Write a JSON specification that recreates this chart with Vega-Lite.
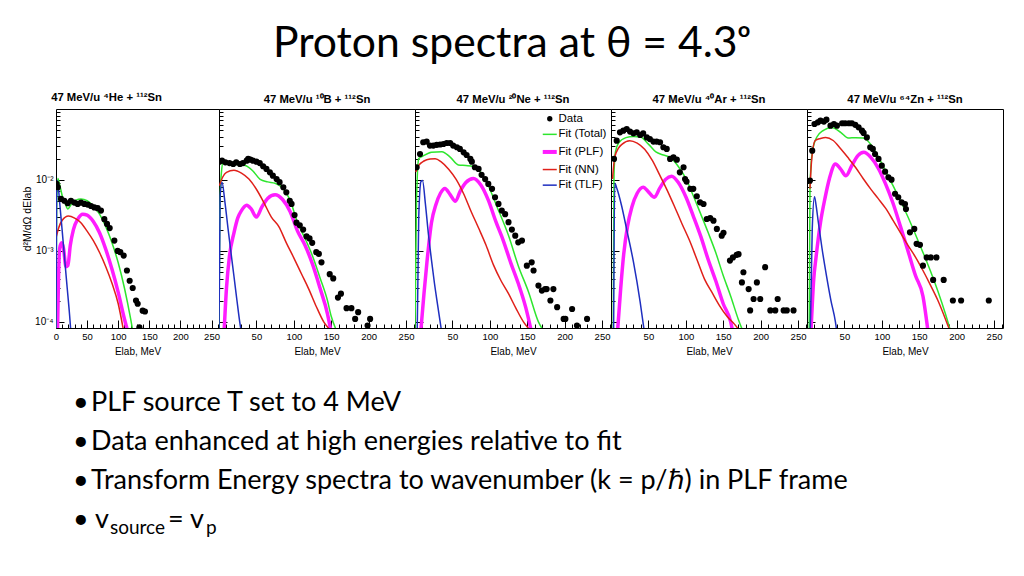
{
"$schema": "https://vega.github.io/schema/vega-lite/v6.json",
"background": "white",
"padding": {"left": 22, "top": 23, "right": 0, "bottom": 0},
"title": {"text": "Proton spectra at θ = 4.3ᵒ", "font": "Lato", "fontSize": 42.7, "fontWeight": "normal", "color": "#000", "anchor": "middle", "offset": 25.5, "dx": -1},
"config": {"view": {"stroke": "#000", "strokeWidth": 1}, "axis": {"tickColor": "#000", "labelColor": "#000", "titleColor": "#000", "grid": false, "domain": false}},
"datasets": {
"pts": [
{"p":1,"E":1,"v":0.0088},{"p":1,"E":3,"v":0.0079},{"p":1,"E":8,"v":0.0054},{"p":1,"E":13.4,"v":0.0051},{"p":1,"E":18.8,"v":0.0047},{"p":1,"E":24,"v":0.0051},{"p":1,"E":29.5,"v":0.0048},{"p":1,"E":34.8,"v":0.0046},{"p":1,"E":40.2,"v":0.0048},{"p":1,"E":45.6,"v":0.0046},{"p":1,"E":51,"v":0.0045},{"p":1,"E":56.3,"v":0.0043},{"p":1,"E":61.6,"v":0.0041},{"p":1,"E":67,"v":0.004},{"p":1,"E":72.3,"v":0.0037},{"p":1,"E":77.7,"v":0.0028},{"p":1,"E":82,"v":0.0024},{"p":1,"E":86.3,"v":0.0021},{"p":1,"E":93.8,"v":0.0014},{"p":1,"E":99.1,"v":0.001},{"p":1,"E":103.4,"v":0.00096},{"p":1,"E":108.8,"v":0.00086},{"p":1,"E":114,"v":0.00053},{"p":1,"E":118.4,"v":0.00038},{"p":1,"E":123.3,"v":0.0003},{"p":1,"E":128.6,"v":0.0002},{"p":1,"E":131.3,"v":0.00018},{"p":1,"E":139.3,"v":0.000144},{"p":1,"E":143,"v":0.00014},{"p":1,"E":134,"v":0.000084},
{"p":2,"E":0.5,"v":0.0181},{"p":2,"E":4,"v":0.0187},{"p":2,"E":8.5,"v":0.0177},{"p":2,"E":14,"v":0.0173},{"p":2,"E":19,"v":0.0168},{"p":2,"E":23,"v":0.0177},{"p":2,"E":28,"v":0.0168},{"p":2,"E":32,"v":0.0173},{"p":2,"E":37,"v":0.0187},{"p":2,"E":39,"v":0.0198},{"p":2,"E":42,"v":0.0193},{"p":2,"E":45.5,"v":0.0187},{"p":2,"E":50,"v":0.0181},{"p":2,"E":54.5,"v":0.0173},{"p":2,"E":59,"v":0.0156},{"p":2,"E":63.4,"v":0.0143},{"p":2,"E":68,"v":0.0128},{"p":2,"E":72,"v":0.0115},{"p":2,"E":77,"v":0.0103},{"p":2,"E":81,"v":0.0093},{"p":2,"E":86,"v":0.0079},{"p":2,"E":90,"v":0.0067},{"p":2,"E":94.6,"v":0.0051},{"p":2,"E":97,"v":0.0046},{"p":2,"E":101,"v":0.0032},{"p":2,"E":103.6,"v":0.0025},{"p":2,"E":108,"v":0.0023},{"p":2,"E":112.5,"v":0.002},{"p":2,"E":117,"v":0.0016},{"p":2,"E":121,"v":0.0015},{"p":2,"E":124.6,"v":0.0013},{"p":2,"E":130,"v":0.00096},{"p":2,"E":133.5,"v":0.00091},{"p":2,"E":137,"v":0.00069},{"p":2,"E":148,"v":0.00047},{"p":2,"E":152.7,"v":0.00041},{"p":2,"E":159,"v":0.00022},{"p":2,"E":163,"v":0.00025},{"p":2,"E":170.5,"v":0.000156},{"p":2,"E":177,"v":0.000156},{"p":2,"E":182,"v":0.00011},{"p":2,"E":186,"v":0.000137},{"p":2,"E":202,"v":0.00011},{"p":2,"E":198.6,"v":0.000089},
{"p":3,"E":2.2,"v":0.0151},{"p":3,"E":6.7,"v":0.0232},{"p":3,"E":11,"v":0.034},{"p":3,"E":15.6,"v":0.0347},{"p":3,"E":20,"v":0.0305},{"p":3,"E":24.5,"v":0.0305},{"p":3,"E":29,"v":0.0313},{"p":3,"E":33.5,"v":0.0316},{"p":3,"E":38,"v":0.0321},{"p":3,"E":42.4,"v":0.0332},{"p":3,"E":47,"v":0.0332},{"p":3,"E":51,"v":0.0305},{"p":3,"E":56,"v":0.0289},{"p":3,"E":60,"v":0.0274},{"p":3,"E":65,"v":0.0245},{"p":3,"E":69,"v":0.0225},{"p":3,"E":74,"v":0.0198},{"p":3,"E":76,"v":0.0181},{"p":3,"E":80,"v":0.0151},{"p":3,"E":85,"v":0.0143},{"p":3,"E":89,"v":0.0118},{"p":3,"E":93.75,"v":0.0103},{"p":3,"E":98,"v":0.0088},{"p":3,"E":103,"v":0.0075},{"p":3,"E":107,"v":0.0057},{"p":3,"E":111.6,"v":0.0046},{"p":3,"E":116,"v":0.0037},{"p":3,"E":120.5,"v":0.0033},{"p":3,"E":125,"v":0.00254},{"p":3,"E":129.5,"v":0.002},{"p":3,"E":134,"v":0.00164},{"p":3,"E":138,"v":0.00132},{"p":3,"E":143,"v":0.0014},{"p":3,"E":149.5,"v":0.00062},{"p":3,"E":156,"v":0.00069},{"p":3,"E":158.5,"v":0.00053},{"p":3,"E":165,"v":0.000325},{"p":3,"E":169.6,"v":0.000276},{"p":3,"E":174,"v":0.00029},{"p":3,"E":176,"v":0.00029},{"p":3,"E":185,"v":0.00029},{"p":3,"E":181,"v":0.0002},{"p":3,"E":190,"v":0.000161},{"p":3,"E":198.7,"v":0.00011},{"p":3,"E":201,"v":0.00011},{"p":3,"E":210,"v":0.000152},{"p":3,"E":216.5,"v":0.000089},{"p":3,"E":230,"v":0.00011},
{"p":4,"E":4,"v":0.0198},{"p":4,"E":7.6,"v":0.0358},{"p":4,"E":12,"v":0.0469},{"p":4,"E":16.5,"v":0.0495},{"p":4,"E":21,"v":0.0523},{"p":4,"E":25.4,"v":0.048},{"p":4,"E":30,"v":0.0454},{"p":4,"E":34.4,"v":0.0469},{"p":4,"E":39,"v":0.043},{"p":4,"E":43,"v":0.0454},{"p":4,"E":47.8,"v":0.0398},{"p":4,"E":52,"v":0.0377},{"p":4,"E":56.7,"v":0.0347},{"p":4,"E":61,"v":0.0347},{"p":4,"E":65.6,"v":0.034},{"p":4,"E":70,"v":0.0289},{"p":4,"E":74.5,"v":0.0274},{"p":4,"E":79,"v":0.0198},{"p":4,"E":83.5,"v":0.0208},{"p":4,"E":88,"v":0.0193},{"p":4,"E":92,"v":0.0128},{"p":4,"E":97,"v":0.0151},{"p":4,"E":99,"v":0.0103},{"p":4,"E":101,"v":0.0095},{"p":4,"E":106,"v":0.0075},{"p":4,"E":110,"v":0.0075},{"p":4,"E":114.7,"v":0.0059},{"p":4,"E":119,"v":0.00484},{"p":4,"E":123.7,"v":0.00459},{"p":4,"E":128,"v":0.00282},{"p":4,"E":132.6,"v":0.0029},{"p":4,"E":137,"v":0.00267},{"p":4,"E":141.5,"v":0.00204},{"p":4,"E":148,"v":0.00164},{"p":4,"E":150.4,"v":0.0018},{"p":4,"E":159,"v":0.00073},{"p":4,"E":163,"v":0.00081},{"p":4,"E":168,"v":0.00088},{"p":4,"E":170.5,"v":0.0009},{"p":4,"E":177,"v":0.0005},{"p":4,"E":175,"v":0.00036},{"p":4,"E":184,"v":0.00029},{"p":4,"E":195,"v":0.00036},{"p":4,"E":190.6,"v":0.00021},{"p":4,"E":199.5,"v":0.00021},{"p":4,"E":206,"v":0.00059},{"p":4,"E":186,"v":0.000145},{"p":4,"E":213,"v":0.000145},{"p":4,"E":222.8,"v":0.00021},{"p":4,"E":219.6,"v":0.000145},{"p":4,"E":230.8,"v":0.000145},{"p":4,"E":235,"v":0.000145},{"p":4,"E":244,"v":0.000145},
{"p":5,"E":4,"v":0.0098},{"p":5,"E":7,"v":0.0259},{"p":5,"E":10,"v":0.0615},{"p":5,"E":14.6,"v":0.0648},{"p":5,"E":18,"v":0.0685},{"p":5,"E":22.6,"v":0.0665},{"p":5,"E":26,"v":0.0708},{"p":5,"E":31.4,"v":0.0582},{"p":5,"E":36,"v":0.0615},{"p":5,"E":40,"v":0.0582},{"p":5,"E":47,"v":0.063},{"p":5,"E":51,"v":0.063},{"p":5,"E":56,"v":0.063},{"p":5,"E":60,"v":0.063},{"p":5,"E":64.6,"v":0.0598},{"p":5,"E":69,"v":0.0552},{"p":5,"E":73.5,"v":0.0495},{"p":5,"E":75.7,"v":0.046},{"p":5,"E":80,"v":0.0398},{"p":5,"E":84.5,"v":0.0289},{"p":5,"E":88,"v":0.0274},{"p":5,"E":91,"v":0.0232},{"p":5,"E":95.6,"v":0.0198},{"p":5,"E":100,"v":0.0159},{"p":5,"E":104.4,"v":0.0131},{"p":5,"E":108.8,"v":0.0109},{"p":5,"E":113,"v":0.0101},{"p":5,"E":117.7,"v":0.0064},{"p":5,"E":122,"v":0.0057},{"p":5,"E":126.5,"v":0.00484},{"p":5,"E":131,"v":0.00459},{"p":5,"E":132.3,"v":0.0039},{"p":5,"E":137.6,"v":0.00183},{"p":5,"E":143.4,"v":0.00204},{"p":5,"E":146.5,"v":0.00126},{"p":5,"E":151,"v":0.00122},{"p":5,"E":155,"v":0.00062},{"p":5,"E":160,"v":0.00081},{"p":5,"E":165.5,"v":0.00081},{"p":5,"E":173,"v":0.00081},{"p":5,"E":168.6,"v":0.00039},{"p":5,"E":182.7,"v":0.00039},{"p":5,"E":195,"v":0.0002},{"p":5,"E":206,"v":0.0002},{"p":5,"E":243,"v":0.0002}
],
"fits": [
{"p":1,"s":"Fit (Total)","E":0,"v":0.00008},{"p":1,"s":"Fit (Total)","E":1,"v":0.004},{"p":1,"s":"Fit (Total)","E":3,"v":0.0105},{"p":1,"s":"Fit (Total)","E":6,"v":0.0085},{"p":1,"s":"Fit (Total)","E":10,"v":0.006},{"p":1,"s":"Fit (Total)","E":15,"v":0.0046},{"p":1,"s":"Fit (Total)","E":19,"v":0.0039},{"p":1,"s":"Fit (Total)","E":25,"v":0.0046},{"p":1,"s":"Fit (Total)","E":32,"v":0.0052},{"p":1,"s":"Fit (Total)","E":40,"v":0.0054},{"p":1,"s":"Fit (Total)","E":50,"v":0.0051},{"p":1,"s":"Fit (Total)","E":60,"v":0.0043},{"p":1,"s":"Fit (Total)","E":70,"v":0.0033},{"p":1,"s":"Fit (Total)","E":80,"v":0.0022},{"p":1,"s":"Fit (Total)","E":90,"v":0.0013},{"p":1,"s":"Fit (Total)","E":100,"v":0.00068},{"p":1,"s":"Fit (Total)","E":110,"v":0.0003},{"p":1,"s":"Fit (Total)","E":120,"v":0.00011},{"p":1,"s":"Fit (Total)","E":124,"v":0.00007},
{"p":1,"s":"Fit (PLF)","E":2.5,"v":0.00008},{"p":1,"s":"Fit (PLF)","E":4,"v":0.0004},{"p":1,"s":"Fit (PLF)","E":6,"v":0.0011},{"p":1,"s":"Fit (PLF)","E":9,"v":0.0013},{"p":1,"s":"Fit (PLF)","E":12,"v":0.0011},{"p":1,"s":"Fit (PLF)","E":16,"v":0.0006},{"p":1,"s":"Fit (PLF)","E":19,"v":0.00062},{"p":1,"s":"Fit (PLF)","E":23,"v":0.0012},{"p":1,"s":"Fit (PLF)","E":28,"v":0.002},{"p":1,"s":"Fit (PLF)","E":35,"v":0.0028},{"p":1,"s":"Fit (PLF)","E":43,"v":0.0033},{"p":1,"s":"Fit (PLF)","E":50,"v":0.0032},{"p":1,"s":"Fit (PLF)","E":60,"v":0.0026},{"p":1,"s":"Fit (PLF)","E":70,"v":0.0018},{"p":1,"s":"Fit (PLF)","E":80,"v":0.00105},{"p":1,"s":"Fit (PLF)","E":90,"v":0.00055},{"p":1,"s":"Fit (PLF)","E":100,"v":0.00026},{"p":1,"s":"Fit (PLF)","E":110,"v":0.00011},{"p":1,"s":"Fit (PLF)","E":116,"v":0.00007},
{"p":1,"s":"Fit (NN)","E":0.5,"v":0.0016},{"p":1,"s":"Fit (NN)","E":5,"v":0.0022},{"p":1,"s":"Fit (NN)","E":10,"v":0.0027},{"p":1,"s":"Fit (NN)","E":20,"v":0.0031},{"p":1,"s":"Fit (NN)","E":30,"v":0.0029},{"p":1,"s":"Fit (NN)","E":40,"v":0.0025},{"p":1,"s":"Fit (NN)","E":50,"v":0.0019},{"p":1,"s":"Fit (NN)","E":60,"v":0.0014},{"p":1,"s":"Fit (NN)","E":70,"v":0.00095},{"p":1,"s":"Fit (NN)","E":80,"v":0.0006},{"p":1,"s":"Fit (NN)","E":90,"v":0.00035},{"p":1,"s":"Fit (NN)","E":100,"v":0.00018},{"p":1,"s":"Fit (NN)","E":108,"v":0.00008},
{"p":1,"s":"Fit (TLF)","E":0,"v":0.00008},{"p":1,"s":"Fit (TLF)","E":1,"v":0.006},{"p":1,"s":"Fit (TLF)","E":2,"v":0.0098},{"p":1,"s":"Fit (TLF)","E":4,"v":0.0075},{"p":1,"s":"Fit (TLF)","E":6,"v":0.0047},{"p":1,"s":"Fit (TLF)","E":10,"v":0.0019},{"p":1,"s":"Fit (TLF)","E":14,"v":0.00075},{"p":1,"s":"Fit (TLF)","E":18,"v":0.0003},{"p":1,"s":"Fit (TLF)","E":22,"v":0.00012},{"p":1,"s":"Fit (TLF)","E":24,"v":0.00007},
{"p":2,"s":"Fit (Total)","E":0,"v":0.00008},{"p":2,"s":"Fit (Total)","E":1,"v":0.003},{"p":2,"s":"Fit (Total)","E":3,"v":0.012},{"p":2,"s":"Fit (Total)","E":6,"v":0.0185},{"p":2,"s":"Fit (Total)","E":15,"v":0.017},{"p":2,"s":"Fit (Total)","E":25,"v":0.0165},{"p":2,"s":"Fit (Total)","E":35,"v":0.016},{"p":2,"s":"Fit (Total)","E":45,"v":0.0135},{"p":2,"s":"Fit (Total)","E":55,"v":0.0102},{"p":2,"s":"Fit (Total)","E":65,"v":0.0094},{"p":2,"s":"Fit (Total)","E":75,"v":0.009},{"p":2,"s":"Fit (Total)","E":85,"v":0.0077},{"p":2,"s":"Fit (Total)","E":95,"v":0.0052},{"p":2,"s":"Fit (Total)","E":105,"v":0.0025},{"p":2,"s":"Fit (Total)","E":115,"v":0.0015},{"p":2,"s":"Fit (Total)","E":125,"v":0.00085},{"p":2,"s":"Fit (Total)","E":135,"v":0.00042},{"p":2,"s":"Fit (Total)","E":145,"v":0.0002},{"p":2,"s":"Fit (Total)","E":150,"v":0.00012},{"p":2,"s":"Fit (Total)","E":156,"v":0.00008},
{"p":2,"s":"Fit (PLF)","E":7,"v":0.00008},{"p":2,"s":"Fit (PLF)","E":10,"v":0.0003},{"p":2,"s":"Fit (PLF)","E":14,"v":0.00085},{"p":2,"s":"Fit (PLF)","E":20,"v":0.0018},{"p":2,"s":"Fit (PLF)","E":25,"v":0.0029},{"p":2,"s":"Fit (PLF)","E":30,"v":0.0037},{"p":2,"s":"Fit (PLF)","E":37,"v":0.0044},{"p":2,"s":"Fit (PLF)","E":43,"v":0.0039},{"p":2,"s":"Fit (PLF)","E":50,"v":0.003},{"p":2,"s":"Fit (PLF)","E":57,"v":0.0041},{"p":2,"s":"Fit (PLF)","E":65,"v":0.0055},{"p":2,"s":"Fit (PLF)","E":75,"v":0.0062},{"p":2,"s":"Fit (PLF)","E":85,"v":0.0053},{"p":2,"s":"Fit (PLF)","E":95,"v":0.0036},{"p":2,"s":"Fit (PLF)","E":105,"v":0.0019},{"p":2,"s":"Fit (PLF)","E":115,"v":0.0012},{"p":2,"s":"Fit (PLF)","E":125,"v":0.00065},{"p":2,"s":"Fit (PLF)","E":135,"v":0.0003},{"p":2,"s":"Fit (PLF)","E":145,"v":0.00013},{"p":2,"s":"Fit (PLF)","E":150,"v":0.00007},
{"p":2,"s":"Fit (NN)","E":0.5,"v":0.0083},{"p":2,"s":"Fit (NN)","E":5,"v":0.011},{"p":2,"s":"Fit (NN)","E":10,"v":0.0128},{"p":2,"s":"Fit (NN)","E":20,"v":0.0137},{"p":2,"s":"Fit (NN)","E":30,"v":0.0125},{"p":2,"s":"Fit (NN)","E":40,"v":0.0103},{"p":2,"s":"Fit (NN)","E":50,"v":0.0074},{"p":2,"s":"Fit (NN)","E":60,"v":0.0048},{"p":2,"s":"Fit (NN)","E":70,"v":0.003},{"p":2,"s":"Fit (NN)","E":80,"v":0.0022},{"p":2,"s":"Fit (NN)","E":90,"v":0.0013},{"p":2,"s":"Fit (NN)","E":100,"v":0.0008},{"p":2,"s":"Fit (NN)","E":110,"v":0.00048},{"p":2,"s":"Fit (NN)","E":120,"v":0.00029},{"p":2,"s":"Fit (NN)","E":130,"v":0.000165},{"p":2,"s":"Fit (NN)","E":140,"v":0.0001},{"p":2,"s":"Fit (NN)","E":147,"v":0.00008},
{"p":2,"s":"Fit (TLF)","E":0,"v":0.00008},{"p":2,"s":"Fit (TLF)","E":1.5,"v":0.006},{"p":2,"s":"Fit (TLF)","E":4,"v":0.0093},{"p":2,"s":"Fit (TLF)","E":8,"v":0.0048},{"p":2,"s":"Fit (TLF)","E":12,"v":0.0021},{"p":2,"s":"Fit (TLF)","E":16,"v":0.00095},{"p":2,"s":"Fit (TLF)","E":20,"v":0.00044},{"p":2,"s":"Fit (TLF)","E":24,"v":0.0002},{"p":2,"s":"Fit (TLF)","E":28,"v":0.000095},{"p":2,"s":"Fit (TLF)","E":30,"v":0.00007},
{"p":3,"s":"Fit (Total)","E":0,"v":0.00008},{"p":3,"s":"Fit (Total)","E":2,"v":0.005},{"p":3,"s":"Fit (Total)","E":5,"v":0.02},{"p":3,"s":"Fit (Total)","E":10,"v":0.0215},{"p":3,"s":"Fit (Total)","E":22,"v":0.0245},{"p":3,"s":"Fit (Total)","E":36,"v":0.025},{"p":3,"s":"Fit (Total)","E":47,"v":0.021},{"p":3,"s":"Fit (Total)","E":58,"v":0.0163},{"p":3,"s":"Fit (Total)","E":68,"v":0.016},{"p":3,"s":"Fit (Total)","E":78,"v":0.0155},{"p":3,"s":"Fit (Total)","E":88,"v":0.0128},{"p":3,"s":"Fit (Total)","E":98,"v":0.0083},{"p":3,"s":"Fit (Total)","E":110,"v":0.0041},{"p":3,"s":"Fit (Total)","E":125,"v":0.00165},{"p":3,"s":"Fit (Total)","E":138,"v":0.00062},{"p":3,"s":"Fit (Total)","E":152,"v":0.00026},{"p":3,"s":"Fit (Total)","E":165,"v":0.0001},{"p":3,"s":"Fit (Total)","E":170,"v":0.00008},
{"p":3,"s":"Fit (PLF)","E":8,"v":0.00008},{"p":3,"s":"Fit (PLF)","E":12,"v":0.00025},{"p":3,"s":"Fit (PLF)","E":16,"v":0.0007},{"p":3,"s":"Fit (PLF)","E":22,"v":0.0025},{"p":3,"s":"Fit (PLF)","E":28,"v":0.0045},{"p":3,"s":"Fit (PLF)","E":34,"v":0.0065},{"p":3,"s":"Fit (PLF)","E":40,"v":0.0076},{"p":3,"s":"Fit (PLF)","E":47,"v":0.0062},{"p":3,"s":"Fit (PLF)","E":54,"v":0.005},{"p":3,"s":"Fit (PLF)","E":60,"v":0.0068},{"p":3,"s":"Fit (PLF)","E":68,"v":0.0092},{"p":3,"s":"Fit (PLF)","E":78,"v":0.0105},{"p":3,"s":"Fit (PLF)","E":88,"v":0.0085},{"p":3,"s":"Fit (PLF)","E":98,"v":0.0052},{"p":3,"s":"Fit (PLF)","E":108,"v":0.0026},{"p":3,"s":"Fit (PLF)","E":118,"v":0.0014},{"p":3,"s":"Fit (PLF)","E":128,"v":0.00068},{"p":3,"s":"Fit (PLF)","E":138,"v":0.00035},{"p":3,"s":"Fit (PLF)","E":148,"v":0.00016},{"p":3,"s":"Fit (PLF)","E":156,"v":0.00007},
{"p":3,"s":"Fit (NN)","E":1,"v":0.013},{"p":3,"s":"Fit (NN)","E":5,"v":0.016},{"p":3,"s":"Fit (NN)","E":12,"v":0.0185},{"p":3,"s":"Fit (NN)","E":20,"v":0.0197},{"p":3,"s":"Fit (NN)","E":27,"v":0.0199},{"p":3,"s":"Fit (NN)","E":35,"v":0.018},{"p":3,"s":"Fit (NN)","E":45,"v":0.0142},{"p":3,"s":"Fit (NN)","E":55,"v":0.0102},{"p":3,"s":"Fit (NN)","E":65,"v":0.0064},{"p":3,"s":"Fit (NN)","E":75,"v":0.0036},{"p":3,"s":"Fit (NN)","E":85,"v":0.0021},{"p":3,"s":"Fit (NN)","E":95,"v":0.0012},{"p":3,"s":"Fit (NN)","E":105,"v":0.00063},{"p":3,"s":"Fit (NN)","E":115,"v":0.00038},{"p":3,"s":"Fit (NN)","E":125,"v":0.00025},{"p":3,"s":"Fit (NN)","E":135,"v":0.000155},{"p":3,"s":"Fit (NN)","E":145,"v":0.0001},{"p":3,"s":"Fit (NN)","E":152,"v":0.00008},
{"p":3,"s":"Fit (TLF)","E":3,"v":0.00008},{"p":3,"s":"Fit (TLF)","E":5,"v":0.003},{"p":3,"s":"Fit (TLF)","E":8,"v":0.0095},{"p":3,"s":"Fit (TLF)","E":10,"v":0.0098},{"p":3,"s":"Fit (TLF)","E":14,"v":0.0045},{"p":3,"s":"Fit (TLF)","E":18,"v":0.0017},{"p":3,"s":"Fit (TLF)","E":22,"v":0.00075},{"p":3,"s":"Fit (TLF)","E":26,"v":0.00035},{"p":3,"s":"Fit (TLF)","E":30,"v":0.00018},{"p":3,"s":"Fit (TLF)","E":35,"v":0.00008},
{"p":4,"s":"Fit (Total)","E":3,"v":0.00008},{"p":4,"s":"Fit (Total)","E":4,"v":0.012},{"p":4,"s":"Fit (Total)","E":6,"v":0.025},{"p":4,"s":"Fit (Total)","E":10,"v":0.033},{"p":4,"s":"Fit (Total)","E":20,"v":0.0395},{"p":4,"s":"Fit (Total)","E":30,"v":0.041},{"p":4,"s":"Fit (Total)","E":40,"v":0.04},{"p":4,"s":"Fit (Total)","E":50,"v":0.032},{"p":4,"s":"Fit (Total)","E":60,"v":0.0248},{"p":4,"s":"Fit (Total)","E":70,"v":0.0225},{"p":4,"s":"Fit (Total)","E":80,"v":0.0205},{"p":4,"s":"Fit (Total)","E":90,"v":0.0155},{"p":4,"s":"Fit (Total)","E":100,"v":0.0105},{"p":4,"s":"Fit (Total)","E":110,"v":0.006},{"p":4,"s":"Fit (Total)","E":120,"v":0.0033},{"p":4,"s":"Fit (Total)","E":130,"v":0.0018},{"p":4,"s":"Fit (Total)","E":140,"v":0.00095},{"p":4,"s":"Fit (Total)","E":150,"v":0.00045},{"p":4,"s":"Fit (Total)","E":160,"v":0.00023},{"p":4,"s":"Fit (Total)","E":170,"v":0.00011},{"p":4,"s":"Fit (Total)","E":175,"v":0.00008},
{"p":4,"s":"Fit (PLF)","E":9,"v":0.00008},{"p":4,"s":"Fit (PLF)","E":13,"v":0.0003},{"p":4,"s":"Fit (PLF)","E":17,"v":0.0009},{"p":4,"s":"Fit (PLF)","E":22,"v":0.0022},{"p":4,"s":"Fit (PLF)","E":28,"v":0.0042},{"p":4,"s":"Fit (PLF)","E":35,"v":0.0065},{"p":4,"s":"Fit (PLF)","E":43,"v":0.0079},{"p":4,"s":"Fit (PLF)","E":50,"v":0.0068},{"p":4,"s":"Fit (PLF)","E":58,"v":0.0057},{"p":4,"s":"Fit (PLF)","E":65,"v":0.0076},{"p":4,"s":"Fit (PLF)","E":73,"v":0.0102},{"p":4,"s":"Fit (PLF)","E":81,"v":0.0113},{"p":4,"s":"Fit (PLF)","E":90,"v":0.0092},{"p":4,"s":"Fit (PLF)","E":100,"v":0.0058},{"p":4,"s":"Fit (PLF)","E":110,"v":0.0031},{"p":4,"s":"Fit (PLF)","E":120,"v":0.0016},{"p":4,"s":"Fit (PLF)","E":130,"v":0.00075},{"p":4,"s":"Fit (PLF)","E":140,"v":0.00038},{"p":4,"s":"Fit (PLF)","E":150,"v":0.00018},{"p":4,"s":"Fit (PLF)","E":160,"v":0.0001},{"p":4,"s":"Fit (PLF)","E":163,"v":0.00007},
{"p":4,"s":"Fit (NN)","E":2,"v":0.0103},{"p":4,"s":"Fit (NN)","E":5,"v":0.021},{"p":4,"s":"Fit (NN)","E":10,"v":0.028},{"p":4,"s":"Fit (NN)","E":15,"v":0.032},{"p":4,"s":"Fit (NN)","E":25,"v":0.0358},{"p":4,"s":"Fit (NN)","E":35,"v":0.033},{"p":4,"s":"Fit (NN)","E":45,"v":0.027},{"p":4,"s":"Fit (NN)","E":55,"v":0.019},{"p":4,"s":"Fit (NN)","E":65,"v":0.0118},{"p":4,"s":"Fit (NN)","E":75,"v":0.0072},{"p":4,"s":"Fit (NN)","E":85,"v":0.0042},{"p":4,"s":"Fit (NN)","E":95,"v":0.0024},{"p":4,"s":"Fit (NN)","E":105,"v":0.0014},{"p":4,"s":"Fit (NN)","E":115,"v":0.00075},{"p":4,"s":"Fit (NN)","E":125,"v":0.0004},{"p":4,"s":"Fit (NN)","E":135,"v":0.00026},{"p":4,"s":"Fit (NN)","E":145,"v":0.00017},{"p":4,"s":"Fit (NN)","E":155,"v":0.00012},{"p":4,"s":"Fit (NN)","E":165,"v":0.000093},{"p":4,"s":"Fit (NN)","E":170,"v":0.00008},
{"p":4,"s":"Fit (TLF)","E":3.5,"v":0.00008},{"p":4,"s":"Fit (TLF)","E":5,"v":0.009},{"p":4,"s":"Fit (TLF)","E":8,"v":0.0075},{"p":4,"s":"Fit (TLF)","E":14,"v":0.0044},{"p":4,"s":"Fit (TLF)","E":21,"v":0.002},{"p":4,"s":"Fit (TLF)","E":30,"v":0.0007},{"p":4,"s":"Fit (TLF)","E":39,"v":0.00019},{"p":4,"s":"Fit (TLF)","E":44,"v":0.00008},
{"p":5,"s":"Fit (Total)","E":3,"v":0.00008},{"p":5,"s":"Fit (Total)","E":4,"v":0.008},{"p":5,"s":"Fit (Total)","E":7,"v":0.0245},{"p":5,"s":"Fit (Total)","E":13,"v":0.04},{"p":5,"s":"Fit (Total)","E":22,"v":0.05},{"p":5,"s":"Fit (Total)","E":33,"v":0.055},{"p":5,"s":"Fit (Total)","E":45,"v":0.047},{"p":5,"s":"Fit (Total)","E":55,"v":0.039},{"p":5,"s":"Fit (Total)","E":65,"v":0.0395},{"p":5,"s":"Fit (Total)","E":75,"v":0.039},{"p":5,"s":"Fit (Total)","E":85,"v":0.032},{"p":5,"s":"Fit (Total)","E":95,"v":0.0215},{"p":5,"s":"Fit (Total)","E":105,"v":0.0135},{"p":5,"s":"Fit (Total)","E":115,"v":0.0083},{"p":5,"s":"Fit (Total)","E":125,"v":0.0051},{"p":5,"s":"Fit (Total)","E":135,"v":0.003},{"p":5,"s":"Fit (Total)","E":145,"v":0.0017},{"p":5,"s":"Fit (Total)","E":155,"v":0.00095},{"p":5,"s":"Fit (Total)","E":165,"v":0.00052},{"p":5,"s":"Fit (Total)","E":175,"v":0.00027},{"p":5,"s":"Fit (Total)","E":185,"v":0.00013},{"p":5,"s":"Fit (Total)","E":191,"v":0.00008},
{"p":5,"s":"Fit (PLF)","E":5.5,"v":0.00008},{"p":5,"s":"Fit (PLF)","E":9,"v":0.0004},{"p":5,"s":"Fit (PLF)","E":12,"v":0.0008},{"p":5,"s":"Fit (PLF)","E":18,"v":0.0025},{"p":5,"s":"Fit (PLF)","E":24,"v":0.0055},{"p":5,"s":"Fit (PLF)","E":30,"v":0.0105},{"p":5,"s":"Fit (PLF)","E":38,"v":0.0168},{"p":5,"s":"Fit (PLF)","E":45,"v":0.0142},{"p":5,"s":"Fit (PLF)","E":52,"v":0.0115},{"p":5,"s":"Fit (PLF)","E":60,"v":0.016},{"p":5,"s":"Fit (PLF)","E":68,"v":0.022},{"p":5,"s":"Fit (PLF)","E":76,"v":0.0245},{"p":5,"s":"Fit (PLF)","E":85,"v":0.021},{"p":5,"s":"Fit (PLF)","E":95,"v":0.0148},{"p":5,"s":"Fit (PLF)","E":105,"v":0.0088},{"p":5,"s":"Fit (PLF)","E":115,"v":0.0047},{"p":5,"s":"Fit (PLF)","E":125,"v":0.0022},{"p":5,"s":"Fit (PLF)","E":135,"v":0.001},{"p":5,"s":"Fit (PLF)","E":145,"v":0.00045},{"p":5,"s":"Fit (PLF)","E":155,"v":0.00023},{"p":5,"s":"Fit (PLF)","E":162,"v":0.00007},
{"p":5,"s":"Fit (NN)","E":4,"v":0.0075},{"p":5,"s":"Fit (NN)","E":6,"v":0.018},{"p":5,"s":"Fit (NN)","E":11,"v":0.036},{"p":5,"s":"Fit (NN)","E":18,"v":0.0385},{"p":5,"s":"Fit (NN)","E":25,"v":0.0398},{"p":5,"s":"Fit (NN)","E":35,"v":0.036},{"p":5,"s":"Fit (NN)","E":45,"v":0.0275},{"p":5,"s":"Fit (NN)","E":55,"v":0.0205},{"p":5,"s":"Fit (NN)","E":65,"v":0.015},{"p":5,"s":"Fit (NN)","E":75,"v":0.0105},{"p":5,"s":"Fit (NN)","E":85,"v":0.0075},{"p":5,"s":"Fit (NN)","E":95,"v":0.0055},{"p":5,"s":"Fit (NN)","E":105,"v":0.004},{"p":5,"s":"Fit (NN)","E":115,"v":0.0027},{"p":5,"s":"Fit (NN)","E":125,"v":0.0018},{"p":5,"s":"Fit (NN)","E":135,"v":0.0012},{"p":5,"s":"Fit (NN)","E":145,"v":0.00082},{"p":5,"s":"Fit (NN)","E":155,"v":0.00053},{"p":5,"s":"Fit (NN)","E":165,"v":0.00033},{"p":5,"s":"Fit (NN)","E":175,"v":0.0002},{"p":5,"s":"Fit (NN)","E":185,"v":0.00011},{"p":5,"s":"Fit (NN)","E":190,"v":0.00008},
{"p":5,"s":"Fit (TLF)","E":4.5,"v":0.00008},{"p":5,"s":"Fit (TLF)","E":7,"v":0.002},{"p":5,"s":"Fit (TLF)","E":10,"v":0.0058},{"p":5,"s":"Fit (TLF)","E":12,"v":0.0045},{"p":5,"s":"Fit (TLF)","E":15,"v":0.0026},{"p":5,"s":"Fit (TLF)","E":20,"v":0.0011},{"p":5,"s":"Fit (TLF)","E":26,"v":0.00045},{"p":5,"s":"Fit (TLF)","E":32,"v":0.0002},{"p":5,"s":"Fit (TLF)","E":38,"v":0.0001},{"p":5,"s":"Fit (TLF)","E":40,"v":0.00007}
],
"notes": [
{"i":1,"t":"PLF source T set to 4 MeV","k":"main"},
{"i":2,"t":"Data enhanced at high energies relative to fit","k":"main"},
{"i":3,"t":"Transform Energy spectra to wavenumber (k = p/ℏ) in PLF frame","k":"main"},
{"i":4,"t":"v","k":"v"},
{"i":4,"t":"source","k":"sub"},
{"i":4,"t":"= v","k":"eq"},
{"i":4,"t":"p","k":"sub2"}
]
},
"spacing": 26,
"vconcat": [
{
"hconcat": [
{
"width": 163, "height": 219,
"title": {"text": "47 MeV/u ⁴He + ¹¹²Sn", "font": "Liberation Sans", "fontSize": 11.3, "fontWeight": "bold", "color": "#000", "anchor": "middle", "dx": -31, "offset": 4},
"encoding": {
"x": {"field": "E", "type": "quantitative", "scale": {"domain": [0, 262], "nice": false, "zero": false}, "axis": {"values": [0,10,20,30,40,50,60,70,80,90,100,110,120,130,140,150,160,170,180,190,200,210,220,230,240,250,260], "title": "Elab, MeV", "titleFont": "Liberation Sans", "titleFontSize": 10, "titleFontWeight": "normal", "titlePadding": 2, "labelFont": "Liberation Sans", "labelFontSize": 9.5, "labelPadding": 11, "labelOverlap": false, "labelFlush": false, "labelBound": false, "labelExpr": "datum.value % 50 === 0 ? datum.label : ''", "tickSize": {"condition": {"test": "datum.value % 50 === 0", "value": -8}, "value": -4}}},
"y": {"field": "v", "type": "quantitative", "scale": {"type": "log", "domain": [0.000082, 0.1], "nice": false}, "axis": {"values": [0.0001,0.0002,0.0003,0.0004,0.0005,0.0006,0.0007,0.0008,0.0009,0.001,0.002,0.003,0.004,0.005,0.006,0.007,0.008,0.009,0.01,0.02,0.03,0.04,0.05,0.06,0.07,0.08,0.09], "title": "d²M/dΩ dElab", "titleFont": "Liberation Sans", "titleFontSize": 10.5, "titleFontWeight": "normal", "titlePadding": 2, "labelFont": "Liberation Sans", "labelFontSize": 10, "labelPadding": 11, "labelOverlap": false, "labelFlush": false, "labelBound": false, "labelExpr": "abs(log(datum.value)/LN10 + 2) < 0.01 ? '10⁻²' : abs(log(datum.value)/LN10 + 3) < 0.01 ? '10⁻³' : abs(log(datum.value)/LN10 + 4) < 0.01 ? '10⁻⁴' : ''", "tickSize": {"condition": {"test": "abs(log(datum.value)/LN10 - round(log(datum.value)/LN10)) < 0.01", "value": -8}, "value": -4}}}
},
"layer": [
{"data": {"name": "fits"}, "transform": [{"filter": "datum.p == 1 && datum.s == 'Fit (PLF)'"}], "mark": {"type": "line", "clip": true, "interpolate": "monotone", "strokeWidth": 3.5}, "encoding": {"color": {"field": "s", "type": "nominal", "scale": {"domain": ["Data","Fit (Total)","Fit (PLF)","Fit (NN)","Fit (TLF)"], "range": ["#000000","#2ee62e","#ff1cff","#e0201a","#1f2fc0"]}, "legend": null}}},
{"data": {"name": "fits"}, "transform": [{"filter": "datum.p == 1 && datum.s != 'Fit (PLF)'"}], "mark": {"type": "line", "clip": true, "interpolate": "monotone", "strokeWidth": 1.5}, "encoding": {"color": {"field": "s", "type": "nominal", "scale": {"domain": ["Data","Fit (Total)","Fit (PLF)","Fit (NN)","Fit (TLF)"], "range": ["#000000","#2ee62e","#ff1cff","#e0201a","#1f2fc0"]}, "legend": null}}},
{"data": {"name": "pts"}, "transform": [{"filter": "datum.p == 1"}], "mark": {"type": "circle", "size": 38, "opacity": 1, "clip": true}, "encoding": {"color": {"datum": "Data", "type": "nominal", "scale": {"domain": ["Data","Fit (Total)","Fit (PLF)","Fit (NN)","Fit (TLF)"], "range": ["#000000","#2ee62e","#ff1cff","#e0201a","#1f2fc0"]}, "legend": null}}}
]
},
{
"width": 196, "height": 219,
"title": {"text": "47 MeV/u ¹⁰B + ¹¹²Sn", "font": "Liberation Sans", "fontSize": 11.3, "fontWeight": "bold", "color": "#000", "anchor": "middle", "offset": 4},
"encoding": {
"x": {"field": "E", "type": "quantitative", "scale": {"domain": [0, 262], "nice": false, "zero": false}, "axis": {"values": [0,10,20,30,40,50,60,70,80,90,100,110,120,130,140,150,160,170,180,190,200,210,220,230,240,250,260], "title": "Elab, MeV", "titleFont": "Liberation Sans", "titleFontSize": 10, "titleFontWeight": "normal", "titlePadding": 2, "labelFont": "Liberation Sans", "labelFontSize": 9.5, "labelPadding": 11, "labelOverlap": false, "labelFlush": false, "labelBound": false, "labelExpr": "datum.value % 50 === 0 && datum.value > 0 ? datum.label : ''", "tickSize": {"condition": {"test": "datum.value % 50 === 0", "value": -8}, "value": -4}}},
"y": {"field": "v", "type": "quantitative", "scale": {"type": "log", "domain": [0.000082, 0.1], "nice": false}, "axis": {"values": [0.0001,0.0002,0.0003,0.0004,0.0005,0.0006,0.0007,0.0008,0.0009,0.001,0.002,0.003,0.004,0.005,0.006,0.007,0.008,0.009,0.01,0.02,0.03,0.04,0.05,0.06,0.07,0.08,0.09], "title": null, "labels": false, "tickSize": {"condition": {"test": "abs(log(datum.value)/LN10 - round(log(datum.value)/LN10)) < 0.01", "value": -8}, "value": -4}}}
},
"layer": [
{"data": {"name": "fits"}, "transform": [{"filter": "datum.p == 2 && datum.s == 'Fit (PLF)'"}], "mark": {"type": "line", "clip": true, "interpolate": "monotone", "strokeWidth": 3.5}, "encoding": {"color": {"field": "s", "type": "nominal", "scale": {"domain": ["Data","Fit (Total)","Fit (PLF)","Fit (NN)","Fit (TLF)"], "range": ["#000000","#2ee62e","#ff1cff","#e0201a","#1f2fc0"]}, "legend": null}}},
{"data": {"name": "fits"}, "transform": [{"filter": "datum.p == 2 && datum.s != 'Fit (PLF)'"}], "mark": {"type": "line", "clip": true, "interpolate": "monotone", "strokeWidth": 1.5}, "encoding": {"color": {"field": "s", "type": "nominal", "scale": {"domain": ["Data","Fit (Total)","Fit (PLF)","Fit (NN)","Fit (TLF)"], "range": ["#000000","#2ee62e","#ff1cff","#e0201a","#1f2fc0"]}, "legend": null}}},
{"data": {"name": "pts"}, "transform": [{"filter": "datum.p == 2"}], "mark": {"type": "circle", "size": 38, "opacity": 1, "clip": true}, "encoding": {"color": {"datum": "Data", "type": "nominal", "scale": {"domain": ["Data","Fit (Total)","Fit (PLF)","Fit (NN)","Fit (TLF)"], "range": ["#000000","#2ee62e","#ff1cff","#e0201a","#1f2fc0"]}, "legend": null}}}
]
},
{
"width": 196, "height": 219,
"title": {"text": "47 MeV/u ²⁰Ne + ¹¹²Sn", "font": "Liberation Sans", "fontSize": 11.3, "fontWeight": "bold", "color": "#000", "anchor": "middle", "offset": 4},
"encoding": {
"x": {"field": "E", "type": "quantitative", "scale": {"domain": [0, 262], "nice": false, "zero": false}, "axis": {"values": [0,10,20,30,40,50,60,70,80,90,100,110,120,130,140,150,160,170,180,190,200,210,220,230,240,250,260], "title": "Elab, MeV", "titleFont": "Liberation Sans", "titleFontSize": 10, "titleFontWeight": "normal", "titlePadding": 2, "labelFont": "Liberation Sans", "labelFontSize": 9.5, "labelPadding": 11, "labelOverlap": false, "labelFlush": false, "labelBound": false, "labelExpr": "datum.value % 50 === 0 && datum.value > 0 ? datum.label : ''", "tickSize": {"condition": {"test": "datum.value % 50 === 0", "value": -8}, "value": -4}}},
"y": {"field": "v", "type": "quantitative", "scale": {"type": "log", "domain": [0.000082, 0.1], "nice": false}, "axis": {"values": [0.0001,0.0002,0.0003,0.0004,0.0005,0.0006,0.0007,0.0008,0.0009,0.001,0.002,0.003,0.004,0.005,0.006,0.007,0.008,0.009,0.01,0.02,0.03,0.04,0.05,0.06,0.07,0.08,0.09], "title": null, "labels": false, "tickSize": {"condition": {"test": "abs(log(datum.value)/LN10 - round(log(datum.value)/LN10)) < 0.01", "value": -8}, "value": -4}}}
},
"layer": [
{"data": {"name": "fits"}, "transform": [{"filter": "datum.p == 3 && datum.s == 'Fit (PLF)'"}], "mark": {"type": "line", "clip": true, "interpolate": "monotone", "strokeWidth": 3.5}, "encoding": {"color": {"field": "s", "type": "nominal", "scale": {"domain": ["Data","Fit (Total)","Fit (PLF)","Fit (NN)","Fit (TLF)"], "range": ["#000000","#2ee62e","#ff1cff","#e0201a","#1f2fc0"]}, "legend": {"title": null, "orient": "top-right", "offset": 4, "padding": 0, "symbolType": "stroke", "symbolSize": 196, "symbolStrokeWidth": 1.5, "labelFont": "Liberation Sans", "labelFontSize": 11.5, "labelColor": "#000", "labelOffset": 3, "rowPadding": 2.6, "encode": {"symbols": {"update": {"shape": {"signal": "datum.value === 'Data' ? 'circle' : 'stroke'"}, "size": {"signal": "datum.value === 'Data' ? 28 : 196"}, "fill": {"signal": "datum.value === 'Data' ? '#000000' : 'transparent'"}, "stroke": {"signal": "datum.value === 'Fit (Total)' ? '#2ee62e' : datum.value === 'Fit (PLF)' ? '#ff1cff' : datum.value === 'Fit (NN)' ? '#e0201a' : datum.value === 'Fit (TLF)' ? '#1f2fc0' : '#000000'"}, "strokeWidth": {"signal": "datum.value === 'Fit (PLF)' ? 4 : datum.value === 'Data' ? 0 : 1.5"}}}}}}}},
{"data": {"name": "fits"}, "transform": [{"filter": "datum.p == 3 && datum.s != 'Fit (PLF)'"}], "mark": {"type": "line", "clip": true, "interpolate": "monotone", "strokeWidth": 1.5}, "encoding": {"color": {"field": "s", "type": "nominal", "scale": {"domain": ["Data","Fit (Total)","Fit (PLF)","Fit (NN)","Fit (TLF)"], "range": ["#000000","#2ee62e","#ff1cff","#e0201a","#1f2fc0"]}}}},
{"data": {"name": "pts"}, "transform": [{"filter": "datum.p == 3"}], "mark": {"type": "circle", "size": 38, "opacity": 1, "clip": true}, "encoding": {"color": {"datum": "Data", "type": "nominal", "scale": {"domain": ["Data","Fit (Total)","Fit (PLF)","Fit (NN)","Fit (TLF)"], "range": ["#000000","#2ee62e","#ff1cff","#e0201a","#1f2fc0"]}}}}
]
},
{
"width": 196, "height": 219,
"title": {"text": "47 MeV/u ⁴⁰Ar + ¹¹²Sn", "font": "Liberation Sans", "fontSize": 11.3, "fontWeight": "bold", "color": "#000", "anchor": "middle", "offset": 4},
"encoding": {
"x": {"field": "E", "type": "quantitative", "scale": {"domain": [0, 262], "nice": false, "zero": false}, "axis": {"values": [0,10,20,30,40,50,60,70,80,90,100,110,120,130,140,150,160,170,180,190,200,210,220,230,240,250,260], "title": "Elab, MeV", "titleFont": "Liberation Sans", "titleFontSize": 10, "titleFontWeight": "normal", "titlePadding": 2, "labelFont": "Liberation Sans", "labelFontSize": 9.5, "labelPadding": 11, "labelOverlap": false, "labelFlush": false, "labelBound": false, "labelExpr": "datum.value % 50 === 0 && datum.value > 0 ? datum.label : ''", "tickSize": {"condition": {"test": "datum.value % 50 === 0", "value": -8}, "value": -4}}},
"y": {"field": "v", "type": "quantitative", "scale": {"type": "log", "domain": [0.000082, 0.1], "nice": false}, "axis": {"values": [0.0001,0.0002,0.0003,0.0004,0.0005,0.0006,0.0007,0.0008,0.0009,0.001,0.002,0.003,0.004,0.005,0.006,0.007,0.008,0.009,0.01,0.02,0.03,0.04,0.05,0.06,0.07,0.08,0.09], "title": null, "labels": false, "tickSize": {"condition": {"test": "abs(log(datum.value)/LN10 - round(log(datum.value)/LN10)) < 0.01", "value": -8}, "value": -4}}}
},
"layer": [
{"data": {"name": "fits"}, "transform": [{"filter": "datum.p == 4 && datum.s == 'Fit (PLF)'"}], "mark": {"type": "line", "clip": true, "interpolate": "monotone", "strokeWidth": 3.5}, "encoding": {"color": {"field": "s", "type": "nominal", "scale": {"domain": ["Data","Fit (Total)","Fit (PLF)","Fit (NN)","Fit (TLF)"], "range": ["#000000","#2ee62e","#ff1cff","#e0201a","#1f2fc0"]}, "legend": null}}},
{"data": {"name": "fits"}, "transform": [{"filter": "datum.p == 4 && datum.s != 'Fit (PLF)'"}], "mark": {"type": "line", "clip": true, "interpolate": "monotone", "strokeWidth": 1.5}, "encoding": {"color": {"field": "s", "type": "nominal", "scale": {"domain": ["Data","Fit (Total)","Fit (PLF)","Fit (NN)","Fit (TLF)"], "range": ["#000000","#2ee62e","#ff1cff","#e0201a","#1f2fc0"]}, "legend": null}}},
{"data": {"name": "pts"}, "transform": [{"filter": "datum.p == 4"}], "mark": {"type": "circle", "size": 38, "opacity": 1, "clip": true}, "encoding": {"color": {"datum": "Data", "type": "nominal", "scale": {"domain": ["Data","Fit (Total)","Fit (PLF)","Fit (NN)","Fit (TLF)"], "range": ["#000000","#2ee62e","#ff1cff","#e0201a","#1f2fc0"]}, "legend": null}}}
]
},
{
"width": 196, "height": 219,
"title": {"text": "47 MeV/u ⁶⁴Zn + ¹¹²Sn", "font": "Liberation Sans", "fontSize": 11.3, "fontWeight": "bold", "color": "#000", "anchor": "middle", "offset": 4},
"encoding": {
"x": {"field": "E", "type": "quantitative", "scale": {"domain": [0, 262], "nice": false, "zero": false}, "axis": {"values": [0,10,20,30,40,50,60,70,80,90,100,110,120,130,140,150,160,170,180,190,200,210,220,230,240,250,260], "title": "Elab, MeV", "titleFont": "Liberation Sans", "titleFontSize": 10, "titleFontWeight": "normal", "titlePadding": 2, "labelFont": "Liberation Sans", "labelFontSize": 9.5, "labelPadding": 11, "labelOverlap": false, "labelFlush": false, "labelBound": false, "labelExpr": "datum.value % 50 === 0 && datum.value > 0 ? datum.label : ''", "tickSize": {"condition": {"test": "datum.value % 50 === 0", "value": -8}, "value": -4}}},
"y": {"field": "v", "type": "quantitative", "scale": {"type": "log", "domain": [0.000082, 0.1], "nice": false}, "axis": {"values": [0.0001,0.0002,0.0003,0.0004,0.0005,0.0006,0.0007,0.0008,0.0009,0.001,0.002,0.003,0.004,0.005,0.006,0.007,0.008,0.009,0.01,0.02,0.03,0.04,0.05,0.06,0.07,0.08,0.09], "title": null, "labels": false, "tickSize": {"condition": {"test": "abs(log(datum.value)/LN10 - round(log(datum.value)/LN10)) < 0.01", "value": -8}, "value": -4}}}
},
"layer": [
{"data": {"name": "fits"}, "transform": [{"filter": "datum.p == 5 && datum.s == 'Fit (PLF)'"}], "mark": {"type": "line", "clip": true, "interpolate": "monotone", "strokeWidth": 3.5}, "encoding": {"color": {"field": "s", "type": "nominal", "scale": {"domain": ["Data","Fit (Total)","Fit (PLF)","Fit (NN)","Fit (TLF)"], "range": ["#000000","#2ee62e","#ff1cff","#e0201a","#1f2fc0"]}, "legend": null}}},
{"data": {"name": "fits"}, "transform": [{"filter": "datum.p == 5 && datum.s != 'Fit (PLF)'"}], "mark": {"type": "line", "clip": true, "interpolate": "monotone", "strokeWidth": 1.5}, "encoding": {"color": {"field": "s", "type": "nominal", "scale": {"domain": ["Data","Fit (Total)","Fit (PLF)","Fit (NN)","Fit (TLF)"], "range": ["#000000","#2ee62e","#ff1cff","#e0201a","#1f2fc0"]}, "legend": null}}},
{"data": {"name": "pts"}, "transform": [{"filter": "datum.p == 5"}], "mark": {"type": "circle", "size": 38, "opacity": 1, "clip": true}, "encoding": {"color": {"datum": "Data", "type": "nominal", "scale": {"domain": ["Data","Fit (Total)","Fit (PLF)","Fit (NN)","Fit (TLF)"], "range": ["#000000","#2ee62e","#ff1cff","#e0201a","#1f2fc0"]}, "legend": null}}}
]
}
],
"spacing": 0,
"bounds": "flush",
"resolve": {"scale": {"color": "independent"}, "legend": {"color": "independent"}}
},
{
"width": 700, "height": 156,
"view": {"stroke": null},
"data": {"name": "notes"},
"encoding": {"y": {"field": "i", "type": "ordinal", "scale": {"type": "point", "padding": 0.5}, "axis": null}, "x": {"value": 17}},
"layer": [
{"transform": [{"filter": "datum.k == 'main' || datum.k == 'v'"}], "mark": {"type": "text", "text": "•", "align": "left", "baseline": "middle", "font": "Lato", "fontSize": 27, "color": "#000"}},
{"transform": [{"filter": "datum.k == 'main'"}], "mark": {"type": "text", "align": "left", "baseline": "middle", "font": "Lato", "fontSize": 27, "color": "#000", "dx": 18}, "encoding": {"text": {"field": "t"}}},
{"transform": [{"filter": "datum.k == 'v'"}], "mark": {"type": "text", "align": "left", "baseline": "middle", "font": "Lato", "fontSize": 27, "color": "#000", "dx": 22}, "encoding": {"text": {"field": "t"}}},
{"transform": [{"filter": "datum.k == 'sub'"}], "mark": {"type": "text", "align": "left", "baseline": "middle", "font": "Lato", "fontSize": 19, "color": "#000", "dx": 37, "dy": 8}, "encoding": {"text": {"field": "t"}}},
{"transform": [{"filter": "datum.k == 'eq'"}], "mark": {"type": "text", "align": "left", "baseline": "middle", "font": "Lato", "fontSize": 27, "color": "#000", "dx": 95}, "encoding": {"text": {"field": "t"}}},
{"transform": [{"filter": "datum.k == 'sub2'"}], "mark": {"type": "text", "align": "left", "baseline": "middle", "font": "Lato", "fontSize": 19, "color": "#000", "dx": 133, "dy": 8}, "encoding": {"text": {"field": "t"}}}
]
}
]
}
